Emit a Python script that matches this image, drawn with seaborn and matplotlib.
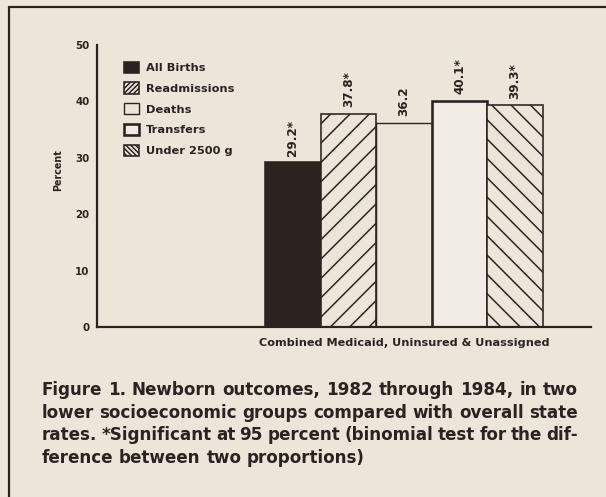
import numpy as np
import pandas as pd
import seaborn as sns
import matplotlib.pyplot as plt
from matplotlib.lines import Line2D
from matplotlib.patches import Patch

# ---------------- data ----------------
group = ["Combined Medicaid, Uninsured & Unassigned"]
outcomes = ["All Births", "Readmissions", "Deaths", "Transfers", "Under 2500 g"]
percent = [29.2, 37.8, 36.2, 40.1, 39.3]
value_labels = ["29.2*", "37.8*", "36.2", "40.1*", "39.3*"]
yticks = [0, 10, 20, 30, 40, 50]
y_label = "Percent"
caption_lines = [
    "Figure 1. Newborn outcomes, 1982 through 1984, in two",
    "lower socioeconomic groups compared with overall state",
    "rates. *Significant at 95 percent (binomial test for the dif-",
    "ference between two proportions)",
]

# ---------------- style ----------------
DPI = 58
W, H = 606, 497


def pt(px):
    return px * 72.0 / DPI


PAPER = "#ece6da"
LIGHT = "#f1ede5"
INK = "#2a2320"
CHART_FONT = ["DejaVu Sans"]
CAPTION_FONT = ["DejaVu Sans"]

hatches = [None, "/", None, None, "\\"]
legend_hatches = [None, "////", None, None, "\\\\\\\\"]
faces = [INK, PAPER, PAPER, LIGHT, PAPER]
edge_px = [1.6, 1.6, 1.4, 2.6, 1.6]

sns.set_theme(style="white")
plt.rcParams["font.family"] = CHART_FONT
plt.rcParams["font.weight"] = "bold"
plt.rcParams["text.color"] = INK
plt.rcParams["axes.labelcolor"] = INK
plt.rcParams["axes.labelweight"] = "bold"
plt.rcParams["xtick.color"] = INK
plt.rcParams["ytick.color"] = INK
plt.rcParams["hatch.linewidth"] = pt(1.5)
plt.rcParams["hatch.color"] = INK

fig = plt.figure(figsize=(W / DPI, H / DPI), dpi=DPI, facecolor=PAPER)
ax = fig.add_axes([97 / W, 1 - 327 / H, (591 - 97) / W, (327 - 45) / H])
ax.set_facecolor("none")

df = pd.DataFrame({
    "group": group * len(outcomes),
    "outcome": outcomes,
    "percent": percent,
})

sns.barplot(data=df, x="group", y="percent", hue="outcome",
            hue_order=outcomes, palette=faces, saturation=1, width=0.8,
            edgecolor=INK, linewidth=pt(1.6), legend=False, ax=ax)

for cont, h, lw, lab in zip(ax.containers, hatches, edge_px, value_labels):
    for p in cont.patches:
        p.set_hatch(h)
        p.set_linewidth(pt(lw))
        p.set_edgecolor(INK)
    ax.bar_label(cont, labels=[lab], rotation=90, padding=pt(6.5),
                 fontsize=pt(12), fontweight="bold", color=INK)

# axes limits / spines
ax.set_ylim(0, 50)
ax.set_xlim(-0.8835, 0.538)
ax.set_yticks(yticks)
sns.despine(ax=ax)
for s in ("left", "bottom"):
    ax.spines[s].set_linewidth(pt(2.2))
    ax.spines[s].set_color(INK)

ax.tick_params(axis="y", direction="out", length=pt(6), width=pt(1.6),
               pad=pt(1.5), labelsize=pt(10.3))
ax.tick_params(axis="x", length=0, pad=pt(11.5), labelsize=pt(11.2))
for t in ax.get_xticklabels() + ax.get_yticklabels():
    t.set_fontweight("bold")

ax.set_xlabel("")
ax.set_ylabel(y_label, fontsize=pt(9.6), fontweight="bold", va="center")
ax.yaxis.set_label_coords((58 - 97) / (591 - 97), (327 - 170) / (327 - 45))

# legend (handles mirror the bars' styles, with a finer hatch for the small swatches)
fs = 11.4
handles = []
for cont, lh in zip(ax.containers, legend_hatches):
    p = cont.patches[0]
    handles.append(Patch(facecolor=p.get_facecolor(), edgecolor=INK,
                         linewidth=p.get_linewidth(), hatch=lh))
ax.legend(handles=handles, labels=outcomes,
          loc="upper left", bbox_to_anchor=(124 / W, 1 - 61.5 / H),
          bbox_transform=fig.transFigure, frameon=False, borderpad=0,
          borderaxespad=0, handlelength=15 / fs,
          handleheight=13 / fs, handletextpad=7 / fs, labelspacing=0.82,
          prop={"weight": "bold", "size": pt(fs), "family": CHART_FONT})

# frame of the figure panel
fig.add_artist(Line2D([9 / W, 1.0], [1 - 6.5 / H] * 2, transform=fig.transFigure,
                      color=INK, lw=pt(2.2)))
fig.add_artist(Line2D([9 / W] * 2, [0.0, 1 - 6.5 / H], transform=fig.transFigure,
                      color=INK, lw=pt(2.2)))

# caption (justified)
fig.canvas.draw()
renderer = fig.canvas.get_renderer()
x0, x1 = 41.5, 578.0
base0, step = 395.0, 22.7
cap_fs = pt(16.8)
cap_kw = dict(fontsize=cap_fs, fontweight="bold", family=CAPTION_FONT, color=INK)
for i, line in enumerate(caption_lines):
    words = line.split(" ")
    yb = 1 - (base0 + i * step) / H
    texts = [fig.text(0, yb, w, va="baseline", ha="left", **cap_kw) for w in words]
    widths = [t.get_window_extent(renderer).width for t in texts]
    if i < len(caption_lines) - 1:
        gap = (x1 - x0 - sum(widths)) / (len(words) - 1)
    else:
        sp = fig.text(0, yb, "a a", **cap_kw)
        sp2 = fig.text(0, yb, "aa", **cap_kw)
        gap = sp.get_window_extent(renderer).width - sp2.get_window_extent(renderer).width
        sp.remove()
        sp2.remove()
    x = x0
    for t, w in zip(texts, widths):
        t.set_x(x / W)
        x += w + gap

fig.savefig("out.png", dpi=DPI, facecolor=PAPER)
